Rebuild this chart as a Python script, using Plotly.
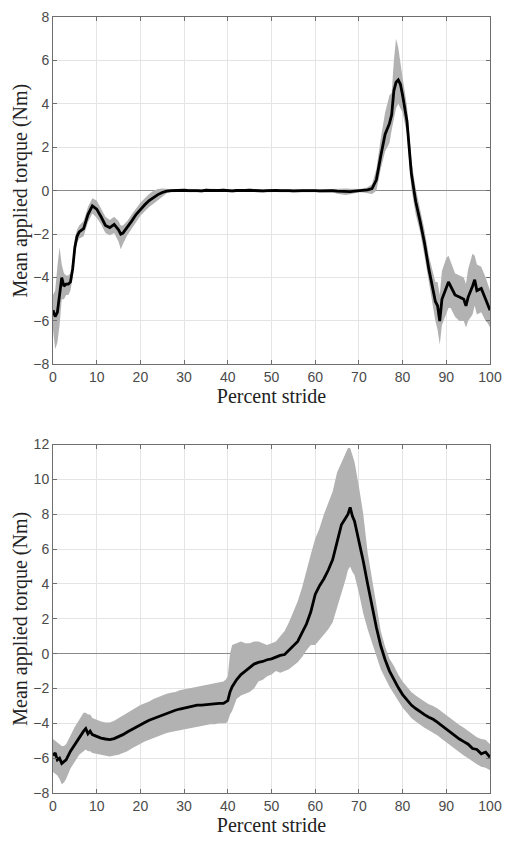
import plotly.graph_objects as go

# ---------------- Top panel data ----------------
x_top = [0, 0.5, 1, 1.5, 2, 2.5, 3, 3.5, 4, 4.5, 5, 5.5, 6, 7, 8, 9, 10, 11, 12, 13,
         14, 15, 15.5, 16, 17, 18, 19, 20, 21, 22, 23, 24, 25, 26,
         27, 28, 29, 30, 31, 32, 33, 34, 35, 36, 37, 38, 39, 40, 41, 42, 43, 44, 45, 46,
         47, 48, 49, 50, 51, 52, 53, 54, 55, 56, 57, 58, 59, 60, 61, 62, 63, 64, 65, 66,
         67, 68, 69, 70, 71, 72,
         73, 74, 75, 76, 77, 77.5, 78, 78.5, 79, 79.5, 80, 81, 82, 83, 84, 85, 86, 87,
         87.5, 88, 88.5, 89, 90, 90.5, 91, 92, 93, 94, 94.5, 95, 96, 96.5, 97, 98, 99,
         99.5, 100]

mean_top = [-5.5, -5.8, -5.6, -4.9, -4.0, -4.4, -4.3, -4.3, -4.2, -3.6, -2.6, -2.1, -1.9,
            -1.75, -1.1, -0.7, -0.85, -1.2, -1.6, -1.7, -1.55, -1.8, -2.0, -1.95, -1.7,
            -1.4, -1.1, -0.85, -0.65, -0.45, -0.3, -0.18, -0.08, -0.02,
            0.00, 0.01, -0.01, 0.02, 0.00, 0.01, 0.00, -0.01, 0.02, 0.01,
            0.00, 0.01, 0.02, 0.00, -0.01, 0.01, 0.00, 0.01, 0.02, 0.00,
            0.01, -0.01, 0.00, 0.02, 0.01, 0.00, 0.01, 0.00, -0.01, 0.01,
            0.00, 0.00, 0.01, 0.00, -0.01, 0.00, 0.01, 0.00, -0.02, -0.03,
            -0.05, -0.04, -0.02, 0.00, 0.01, 0.04,
            0.1, 0.5, 1.6, 2.6, 3.1, 3.5, 4.6, 5.0, 5.1, 4.9, 4.4, 3.2, 0.8, -0.5, -1.4,
            -2.4, -3.6, -4.7, -5.1, -5.3, -6.0, -5.0, -4.4, -4.2, -4.4, -4.8, -4.9, -5.0,
            -5.3, -4.9, -4.4, -4.1, -4.6, -4.5, -5.0, -5.3, -5.5]

upper_top = [-4.8, -4.6, -3.5, -2.6, -3.4, -3.8, -3.9, -3.9, -3.8, -3.2, -2.2, -1.8, -1.6,
             -1.4, -0.75, -0.35, -0.45, -0.8, -1.2, -1.35, -1.2, -1.4, -1.6, -1.6, -1.4,
             -1.1, -0.8, -0.55, -0.35, -0.15, 0.0, 0.08, 0.1, 0.08,
             0.07, 0.08, 0.06, 0.09, 0.07, 0.08, 0.07, 0.06, 0.09, 0.08,
             0.07, 0.08, 0.09, 0.07, 0.06, 0.08, 0.07, 0.08, 0.09, 0.07,
             0.08, 0.06, 0.07, 0.09, 0.08, 0.07, 0.08, 0.07, 0.06, 0.08,
             0.07, 0.07, 0.08, 0.07, 0.06, 0.07, 0.08, 0.07, 0.08, 0.10,
             0.10, 0.09, 0.07, 0.08, 0.10, 0.16,
             0.3, 1.0, 2.4, 3.6, 4.4, 4.5, 6.0, 7.0, 6.6, 5.8, 5.2, 3.9, 1.4, 0.1, -0.9,
             -1.8, -3.0, -3.9, -4.2, -4.2, -4.8, -3.7, -3.1, -3.0, -3.3, -3.8, -3.9, -4.0,
             -4.3, -3.6, -2.9, -3.0, -3.4, -3.5, -4.0, -4.3, -4.6]

lower_top = [-6.4, -7.3, -7.0, -6.2, -5.0, -5.0, -4.8, -4.8, -4.6, -4.0, -3.0, -2.4, -2.2,
             -2.1, -1.45, -1.05, -1.25, -1.55, -1.95, -2.05, -1.95, -2.35, -2.7, -2.45,
             -2.05, -1.75, -1.4, -1.15, -0.95, -0.75, -0.6, -0.45, -0.3, -0.12,
             -0.07, -0.06, -0.08, -0.05, -0.07, -0.06, -0.07, -0.08, -0.05, -0.06,
             -0.07, -0.06, -0.05, -0.07, -0.08, -0.06, -0.07, -0.06, -0.05, -0.07,
             -0.06, -0.08, -0.07, -0.05, -0.06, -0.07, -0.06, -0.07, -0.08, -0.06,
             -0.07, -0.07, -0.06, -0.07, -0.08, -0.07, -0.06, -0.07, -0.14, -0.17,
             -0.20, -0.16, -0.10, -0.07, -0.08, -0.12,
             -0.15, 0.0, 1.0, 1.8, 2.2, 2.8, 3.4, 3.8, 4.0, 3.8, 3.6, 2.6, 0.1, -1.1, -1.9,
             -3.0, -4.2, -5.5, -6.0, -6.4, -7.1, -6.2, -5.7, -5.4, -5.4, -5.8, -6.0, -6.0,
             -6.3, -6.0, -5.7, -5.3, -5.7, -5.6, -6.0, -6.1, -6.3]

# ---------------- Bottom panel data ----------------
x_bot = [0, 0.5, 1, 1.5, 2, 2.5, 3, 4, 5, 6, 7, 7.5, 8, 8.5, 9,
         10, 11, 12, 13, 14, 15, 16, 17, 18, 19, 20, 21, 22, 23, 24, 25, 26, 27, 28, 29,
         30, 31, 32, 33, 34, 35, 36, 37, 38, 39,
         39.5, 40, 40.5,
         41, 42, 43, 44, 45, 46, 47, 48, 49, 50, 51, 52, 53, 54, 55, 56, 57, 58, 59,
         60, 61, 62, 63, 64, 65, 66, 67,
         67.5, 68, 68.5,
         69, 70, 71, 72, 73, 74, 75, 76, 77, 78, 79, 80, 81, 82, 83, 84, 85, 86, 87, 88,
         89, 90, 91, 92, 93, 94, 95, 96, 97, 98, 99, 100]

mean_bot = [-5.85, -5.7, -6.1, -6.0, -6.3, -6.2, -6.1, -5.6, -5.2, -4.8, -4.45, -4.3, -4.6,
            -4.45, -4.65,
            -4.75, -4.85, -4.9, -4.93, -4.88, -4.78, -4.65, -4.5, -4.35, -4.2,
            -4.05, -3.95, -3.82, -3.72, -3.62, -3.55, -3.42, -3.33, -3.25, -3.18,
            -3.12, -3.07, -3.02, -2.95, -2.95, -2.92, -2.9, -2.88, -2.86, -2.86,
            -2.8, -2.7, -2.2,
            -1.9, -1.5, -1.2, -1.0, -0.8, -0.6, -0.5, -0.45, -0.35,
            -0.3, -0.2, -0.1, -0.05, 0.2, 0.4, 0.7, 1.2, 1.7, 2.4,
            3.4, 3.9, 4.3, 4.8, 5.4, 6.4, 7.4, 7.8,
            8.0, 8.4, 7.9,
            7.6, 6.5, 5.3, 4.0, 2.7, 1.5, 0.45, -0.35, -1.0, -1.5,
            -1.95, -2.35, -2.65, -2.95, -3.15, -3.35, -3.5, -3.65, -3.77, -3.95,
            -4.15, -4.35, -4.55, -4.7, -4.9, -5.05, -5.2, -5.45, -5.5, -5.75,
            -5.65, -5.95]

upper_bot = [-4.9, -5.0, -5.1, -5.2, -5.3, -5.3, -5.2, -4.7, -4.2, -3.8, -3.4, -3.4, -3.5,
             -3.5, -3.7,
             -3.8, -3.9, -3.95, -3.95, -3.85, -3.7, -3.55, -3.4, -3.25, -3.1,
             -2.95, -2.85, -2.75, -2.6, -2.5, -2.4, -2.3, -2.25, -2.2, -2.1,
             -2.05, -2.0, -1.95, -1.9, -1.85, -1.8, -1.75, -1.7, -1.65, -1.6,
             -1.5, -1.3, 0.0,
             0.5, 0.6, 0.7, 0.6, 0.6, 0.7, 0.7, 0.6, 0.5,
             0.6, 0.7, 1.0, 1.3, 1.8, 2.4, 3.0, 3.8, 4.8, 5.7,
             6.6, 7.2, 8.0, 8.6, 9.3, 10.4, 11.0, 11.6,
             11.8, 11.8, 11.4,
             11.0, 9.6, 8.0, 5.8, 4.3, 2.6, 1.3, 0.4, -0.3, -0.7,
             -1.2, -1.6, -1.9, -2.2, -2.4, -2.6, -2.75, -2.9, -3.0, -3.15,
             -3.35, -3.55, -3.75, -3.9, -4.1, -4.25, -4.45, -4.6, -4.8, -4.9,
             -4.95, -5.2]

lower_bot = [-6.8, -6.9, -7.0, -7.2, -7.5, -7.4, -7.2, -6.6, -6.2, -5.8, -5.6, -5.5, -5.6,
             -5.6, -5.7,
             -5.75, -5.8, -5.85, -5.9, -5.85, -5.8, -5.7, -5.6, -5.45, -5.3,
             -5.15, -5.05, -4.95, -4.85, -4.75, -4.65, -4.55, -4.5, -4.45, -4.4,
             -4.35, -4.3, -4.25, -4.2, -4.15, -4.1, -4.05, -4.05, -4.0, -4.0,
             -4.0, -3.9, -3.5,
             -3.3, -2.6, -2.4, -2.3, -2.2, -2.0, -1.6, -1.5, -1.3,
             -1.2, -1.0, -1.1, -1.0, -0.9, -0.7, -0.5, -0.2, 0.2, 0.5,
             0.5, 0.8, 1.1, 1.4, 1.8, 2.6, 3.5, 4.3,
             4.8, 5.0, 4.7,
             4.5, 3.5, 2.3, 1.4, 0.6, -0.2, -0.9, -1.4, -1.9, -2.3,
             -2.7, -3.1, -3.4, -3.7, -3.9, -4.1, -4.25, -4.4, -4.55, -4.7,
             -4.9, -5.1, -5.3, -5.5, -5.7, -5.85, -6.0, -6.2, -6.35, -6.5,
             -6.55, -6.7]

x_ticks = [0, 10, 20, 30, 40, 50, 60, 70, 80, 90, 100]
y_ticks_top = [-8, -6, -4, -2, 0, 2, 4, 6, 8]
y_ticks_bot = [-8, -6, -4, -2, 0, 2, 4, 6, 8, 10, 12]

for a in (mean_top, upper_top, lower_top):
    assert len(a) == len(x_top), len(a)
for a in (mean_bot, upper_bot, lower_bot):
    assert len(a) == len(x_bot), len(a)

BAND = "#b2b2b2"
fig = go.Figure()


def add_panel(x, mean, upper, lower, xa, ya):
    fig.add_trace(go.Scatter(x=x, y=lower, mode="lines", line=dict(width=0, color=BAND),
                             xaxis=xa, yaxis=ya, hoverinfo="skip"))
    fig.add_trace(go.Scatter(x=x, y=upper, mode="lines", line=dict(width=0, color=BAND),
                             fill="tonexty", fillcolor=BAND, xaxis=xa, yaxis=ya,
                             hoverinfo="skip"))
    fig.add_trace(go.Scatter(x=x, y=mean, mode="lines", line=dict(width=2.8, color="black"),
                             xaxis=xa, yaxis=ya))


add_panel(x_top, mean_top, upper_top, lower_top, "x", "y")
add_panel(x_bot, mean_bot, upper_bot, lower_bot, "x2", "y2")

AX = "#6e6e6e"
GRID = "#e4e4e4"
tickfont = dict(family="Liberation Sans, Arial", size=14, color="#4a4a4a")
titlefont = dict(family="Liberation Serif, Times New Roman", size=20, color="#222")

common_x = dict(range=[0, 100], tickvals=x_ticks, showgrid=True, gridcolor=GRID, gridwidth=1,
                showline=True, linecolor=AX, linewidth=1, mirror="ticks", ticks="inside",
                ticklen=4, tickcolor=AX, tickfont=tickfont, zeroline=False,
                title=dict(text="Percent stride", font=titlefont, standoff=4))
common_y = dict(showgrid=True, gridcolor=GRID, gridwidth=1, showline=True, linecolor=AX,
                linewidth=1, mirror="ticks", ticks="inside", ticklen=4, tickcolor=AX,
                tickfont=tickfont, zeroline=True, zerolinecolor="#8a8a8a", zerolinewidth=1,
                title=dict(text="Mean applied torque (Nm)", font=titlefont, standoff=0))

fig.update_layout(
    width=511, height=841,
    margin=dict(l=53, r=12, t=9, b=48),
    plot_bgcolor="white", paper_bgcolor="white",
    showlegend=False,
    xaxis=dict(domain=[0, 1], anchor="y", **common_x),
    yaxis=dict(domain=[0.5523, 1.0], anchor="x", range=[-8, 8], tickvals=y_ticks_top, **common_y),
    xaxis2=dict(domain=[0, 1], anchor="y2", **common_x),
    yaxis2=dict(domain=[0.0, 0.449], anchor="x2", range=[-8, 12], tickvals=y_ticks_bot, **common_y),
)

fig.write_html("out.html")
